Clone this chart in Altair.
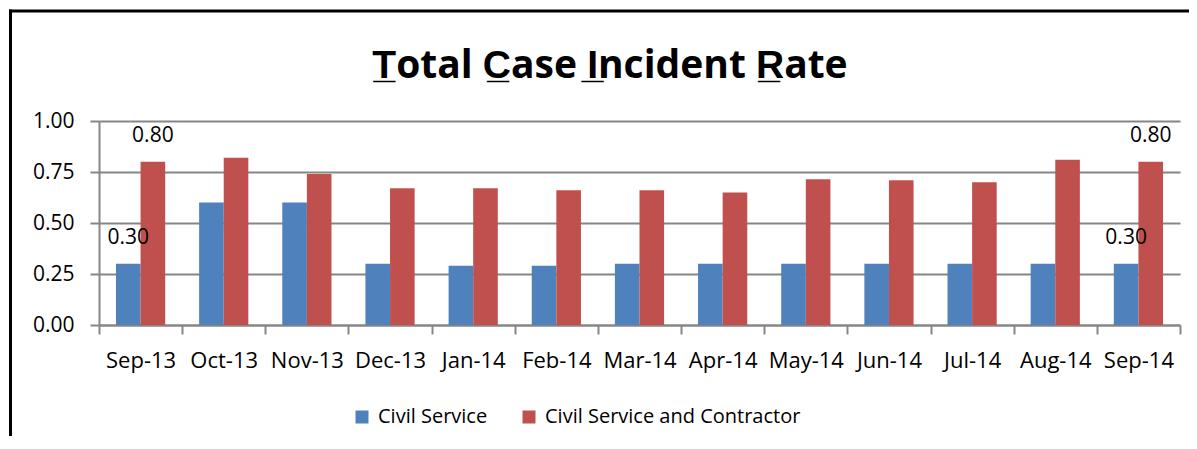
import altair as alt
import pandas as pd

months = ["Sep-13", "Oct-13", "Nov-13", "Dec-13", "Jan-14", "Feb-14", "Mar-14",
          "Apr-14", "May-14", "Jun-14", "Jul-14", "Aug-14", "Sep-14"]
civil_service = [0.30, 0.60, 0.60, 0.30, 0.29, 0.29, 0.30, 0.30, 0.30, 0.30, 0.30, 0.30, 0.30]
civil_and_contractor = [0.80, 0.82, 0.74, 0.67, 0.67, 0.66, 0.66, 0.65, 0.715, 0.71, 0.70, 0.81, 0.80]
series_names = ["Civil Service", "Civil Service and Contractor"]
series_colors = ["#4F81BD", "#C0504D"]
labeled_months = ["Sep-13", "Sep-14"]
y_ticks = [0, 0.25, 0.5, 0.75, 1.0]
title_text = "T\u0332otal C\u0332ase I\u0332ncident R\u0332ate"

rows = []
for m, a, b in zip(months, civil_service, civil_and_contractor):
    rows.append({"month": m, "series": series_names[0], "value": a})
    rows.append({"month": m, "series": series_names[1], "value": b})
df = pd.DataFrame(rows)

W, H = 1081, 204
GRID = "#868686"
FONT = "Open Sans"

x = alt.X("month:N", sort=months,
          scale=alt.Scale(paddingInner=0, paddingOuter=0),
          axis=alt.Axis(title=None, labelAngle=0, tickBand="extent", grid=False,
                        domainColor=GRID, domainWidth=2, tickColor=GRID, tickWidth=2,
                        tickSize=9, labelFont=FONT, labelFontSize=22, labelColor="#000",
                        labelPadding=16, labelOverlap=False, labelBaseline="top"))
xo = alt.XOffset("series:N", sort=series_names,
                 scale=alt.Scale(paddingOuter=0.69, paddingInner=0))
y = alt.Y("value:Q", scale=alt.Scale(domain=[0, 1], nice=False),
          axis=alt.Axis(title=None, values=y_ticks, format=".2f", grid=True,
                        gridColor=GRID, gridWidth=2, domainColor=GRID, domainWidth=2,
                        tickColor=GRID, tickWidth=2, tickSize=9, labelFont=FONT,
                        labelFontSize=21, labelColor="#000", labelPadding=16))
color = alt.Color("series:N", sort=series_names,
                  scale=alt.Scale(domain=series_names, range=series_colors),
                  legend=alt.Legend(title=None, orient="none", legendX=253, legendY=286,
                                    direction="horizontal", symbolType="square",
                                    symbolSize=169, symbolStrokeWidth=0, symbolOpacity=1,
                                    labelFont=FONT, labelFontSize=20, labelColor="#000",
                                    labelLimit=500, columnPadding=31, labelOffset=6))

bars = alt.Chart(df).mark_bar().encode(x=x, xOffset=xo, y=y, color=color)

labels = alt.Chart(df).transform_filter(
    alt.FieldOneOfPredicate(field="month", oneOf=labeled_months)
).mark_text(dy=-26, baseline="middle", align="center", font=FONT, fontSize=21,
            color="#000").encode(x=x, xOffset=xo, y=y,
                                 text=alt.Text("value:Q", format=".2f"))

one = pd.DataFrame({"k": [0]})
title = alt.Chart(one).mark_text(text=title_text, font="Open Sans, sans-serif",
                                 fontWeight="bold", fontSize=39, align="center",
                                 baseline="alphabetic", color="#000").encode(
    x=alt.value(511), y=alt.value(-43))
top_border = alt.Chart(one).mark_rule(color="#000", strokeWidth=3).encode(
    x=alt.value(-90), x2=alt.value(W + 9), y=alt.value(-110))
left_border = alt.Chart(one).mark_rule(color="#000", strokeWidth=3).encode(
    x=alt.value(-88.5), y=alt.value(-111.5), y2=alt.value(H + 111))

chart = alt.layer(bars, labels, title, top_border, left_border).properties(
    width=W, height=H, autosize="none",
    padding={"left": 91, "top": 113, "right": 9, "bottom": 111},
    background="white",
).configure_view(stroke=None)

chart.save("out.html", embed_options={"renderer": "svg", "actions": False})
